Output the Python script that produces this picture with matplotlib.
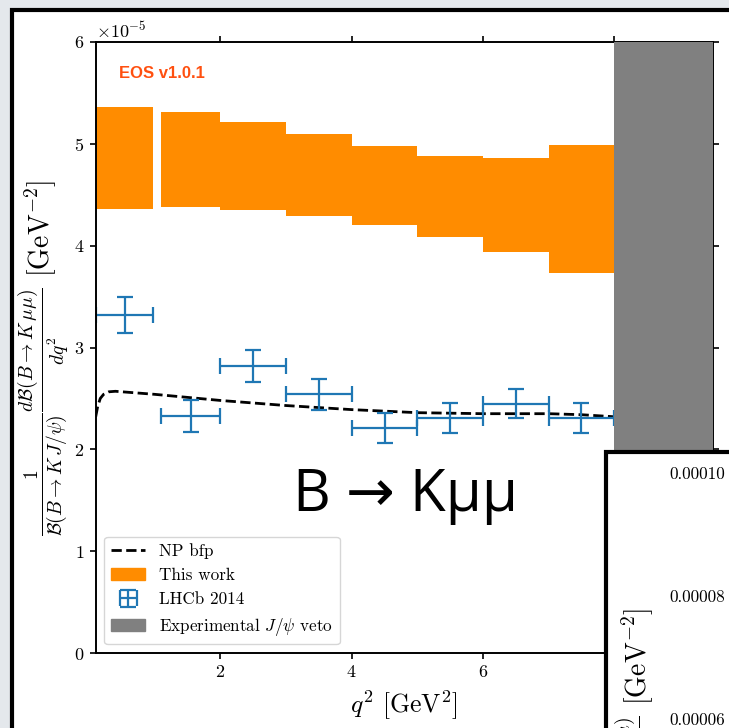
import matplotlib
matplotlib.use("Agg")
import matplotlib.pyplot as plt
import matplotlib.patches as mpatches
from matplotlib.lines import Line2D
import numpy as np

plt.rcParams['font.family'] = 'serif'
plt.rcParams['font.serif'] = ['cmr10']
plt.rcParams['mathtext.fontset'] = 'cm'
plt.rcParams['axes.formatter.use_mathtext'] = True
plt.rcParams['axes.unicode_minus'] = False

# ---------------- data (units of 1e-5 GeV^-2) ----------------
bin_lo = [0.1, 1.1, 2.0, 3.0, 4.0, 5.0, 6.0, 7.0]
bin_hi = [0.98, 2.0, 3.0, 4.0, 5.0, 6.0, 7.0, 8.0]
this_work_low = [4.36, 4.38, 4.35, 4.29, 4.20, 4.09, 3.94, 3.73]
this_work_high = [5.36, 5.31, 5.21, 5.10, 4.98, 4.88, 4.86, 4.99]
lhcb_val = [3.32, 2.33, 2.82, 2.54, 2.21, 2.31, 2.45, 2.31]
lhcb_err = [0.18, 0.155, 0.16, 0.15, 0.145, 0.145, 0.14, 0.145]
np_q2 = [0.1, 0.13, 0.17, 0.22, 0.3, 0.4, 0.6, 1.0, 1.5, 2.0, 3.0, 4.0, 5.0, 6.0, 7.0, 7.5, 8.0]
np_val = [2.32, 2.42, 2.50, 2.54, 2.565, 2.57, 2.56, 2.54, 2.51, 2.48, 2.43, 2.39, 2.36, 2.35, 2.35, 2.34, 2.32]
veto_range = [8.0, 9.5]
scale = 1e-5

second_ticks = [4e-5, 6e-5, 8e-5, 1e-4]
second_ticklabels = ['0.00004', '0.00006', '0.00008', '0.00010']

W, H = 729, 728
fig = plt.figure(figsize=(W / 100, H / 100), dpi=100)
fig.patch.set_facecolor('#e4e8ec')

def px(x, y):
    return x / W, 1 - y / H

# slide panel 1
x0, y0 = px(12, 10)
panel1 = mpatches.Rectangle((x0, -0.3), 1.5, y0 + 0.3, transform=fig.transFigure,
                            facecolor='white', edgecolor='black', linewidth=3.0,
                            zorder=-5)
fig.add_artist(panel1)

# main axes
ax = fig.add_axes([95.7 / W, 1 - 653 / H, 617 / W, 611 / H])
ax.set_zorder(0)

ylab = (r'$\frac{1}{\mathcal{B}(B\to K\,J/\psi)}\frac{d\mathcal{B}(B\to K\,\mu\mu)}{dq^2}$'
        r' [GeV$^{-2}$]')

for lo, hi, l, h in zip(bin_lo, bin_hi, this_work_low, this_work_high):
    ax.fill_between([lo, hi], [l * scale] * 2, [h * scale] * 2, color='#ff8c00',
                    linewidth=0)

ax.plot(np.array(np_q2), np.array(np_val) * scale, color='black', ls='--', lw=2)

xc = [(a + b) / 2 for a, b in zip(bin_lo, bin_hi)]
xe = [(b - a) / 2 for a, b in zip(bin_lo, bin_hi)]
eb = ax.errorbar(xc, np.array(lhcb_val) * scale, xerr=xe, yerr=np.array(lhcb_err) * scale,
                 fmt='none', ecolor='#1f77b4', elinewidth=1.6, capsize=6, capthick=1.6)

ax.axvspan(veto_range[0], veto_range[1], color='gray', lw=0, zorder=3)

ax.set_xlim(0.1, 9.5)
ax.set_ylim(0, 6e-5)
ax.set_xticks([2, 4, 6, 8])
ax.tick_params(direction='out', top=True, right=True, length=4.5, width=1.2,
               labelsize=13)
for s in ax.spines.values():
    s.set_linewidth(1.4)
ax.yaxis.get_offset_text().set_fontsize(13)

ax.set_xlabel(r'$q^2$ [GeV$^2$]', fontsize=18.5, labelpad=6)
ax.set_ylabel(ylab, fontsize=20)
ax.yaxis.set_label_coords(71 / W, 1 - 358 / H, transform=fig.transFigure)

ax.text(0.038, 0.948, 'EOS v1.0.1', transform=ax.transAxes, color='#ff5010',
        fontsize=12, fontweight='bold', family='Liberation Sans', va='center')

handles = [Line2D([], [], color='black', ls='--', lw=2),
           mpatches.Patch(color='#ff8c00'),
           eb,
           mpatches.Patch(color='gray')]
labels = ['NP bfp', 'This work', 'LHCb 2014', r'Experimental $J/\psi$ veto']
ax.legend(handles, labels, loc='lower left', fontsize=12.3)

# slide panel 2 (overlapping)
x2, y2 = px(606, 452)
panel2 = mpatches.Rectangle((x2, -0.3), 1.0, y2 + 0.3, transform=fig.transFigure,
                            facecolor='white', edgecolor='black', linewidth=3.0,
                            zorder=1)
fig.add_artist(panel2)

# second chart, mostly outside the visible area
ylo, yhi = 3e-5, 1.2e-4
pix_per = 123 / 2e-5
bottom_px = 255 - (1e-4 - ylo) * pix_per
top_px = 255 + (yhi - 1e-4) * pix_per
ax2 = fig.add_axes([736 / W, bottom_px / H, 0.5, (top_px - bottom_px) / H])
ax2.set_zorder(2)
ax2.set_ylim(ylo, yhi)
ax2.set_yticks(second_ticks)
ax2.set_yticklabels(second_ticklabels)
ax2.tick_params(labelsize=12.3, length=4.5)
ax2.set_ylabel(ylab, fontsize=20)
ax2.yaxis.set_label_coords(668 / W, 1 - 786 / H, transform=fig.transFigure)

fig.text(293 / W, 1 - 496 / H, 'B → Kμμ', fontsize=42,
         family=['Open Sans', 'Noto Sans', 'DejaVu Sans'],
         va='center', ha='left', zorder=5)

fig.savefig('out.png', dpi=100, facecolor=fig.get_facecolor())
